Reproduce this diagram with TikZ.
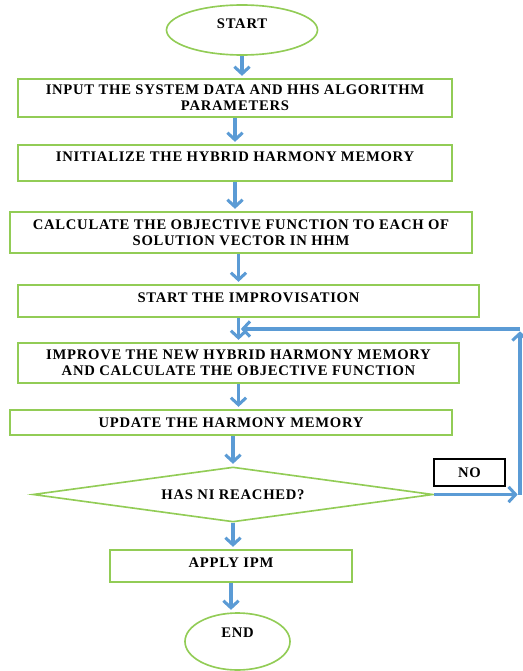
\documentclass[tikz,border=0pt]{standalone}
\usepackage{fontspec}
\setmainfont{Liberation Serif}
\newfontfamily\chartfont[LetterSpace=5]{Liberation Serif}
\usetikzlibrary{shapes.geometric,arrows.meta}
\definecolor{boxgreen}{RGB}{146,204,86}
\definecolor{flowblue}{RGB}{91,155,213}
\begin{document}
\begin{tikzpicture}[x=0.03cm,y=-0.03cm,
    chart/.style={font=\chartfont\bfseries\fontsize{12.5}{13.5}\selectfont,align=center,
      draw=boxgreen,line width=1.4pt,inner sep=1pt},
    procbox/.style={chart,rectangle},
    term/.style={chart,ellipse},
    decide/.style={chart,diamond,inner sep=0pt,aspect=7.27},
    nobox/.style={font=\chartfont\bfseries\fontsize{12.5}{13.5}\selectfont,draw=black,line width=1.6pt,
      rectangle,minimum width=2.13cm,minimum height=0.81cm},
    flow/.style={draw=flowblue,line width=2.6pt,-{Straight Barb[length=6pt,width=13pt]},shorten >=2pt}]

      \useasboundingbox (0,0) rectangle (522,671);

      \begin{scope}[every node/.style={}]
        \node[term,minimum width=4.53cm,minimum height=1.5cm,text depth=0.36cm] (start) at (242,30) {START};
        \node[procbox,minimum width=13.02cm,minimum height=1.14cm] (input) at (235,98)
          {INPUT THE SYSTEM DATA AND HHS ALGORITHM\\PARAMETERS};
        \node[procbox,minimum width=13.02cm,minimum height=1.08cm,text depth=0.36cm] (init) at (235,163)
          {INITIALIZE THE HYBRID HARMONY MEMORY};
        \node[procbox,minimum width=13.86cm,minimum height=1.23cm] (calc) at (241,232.5)
          {CALCULATE THE OBJECTIVE FUNCTION TO EACH OF\\SOLUTION VECTOR IN HHM};
        \node[procbox,minimum width=13.83cm,minimum height=0.96cm,text depth=0.18cm] (improv) at (248.5,301)
          {START THE IMPROVISATION};
        \node[procbox,minimum width=13.23cm,minimum height=1.2cm] (improve) at (238.5,363)
          {IMPROVE THE NEW HYBRID HARMONY MEMORY\\AND CALCULATE THE OBJECTIVE FUNCTION};
        \node[procbox,minimum width=13.26cm,minimum height=0.75cm] (update) at (231,422.5)
          {UPDATE THE HARMONY MEMORY};
        \node[decide,minimum width=12cm,minimum height=1.65cm] (check) at (233,494.5)
          {HAS NI REACHED?};
        \node[nobox] (no) at (469.5,472.5) {NO};
        \node[procbox,minimum width=7.26cm,minimum height=0.96cm,text depth=0.18cm] (ipm) at (231,566)
          {APPLY IPM};
        \node[term,minimum width=3.15cm,minimum height=1.71cm,text depth=0.54cm] (end) at (237.5,641.5) {END};
      \end{scope}

      \coordinate (nocorner) at (520,494.5);
      \coordinate (loopcorner) at (520,329);

      \begin{scope}[every edge/.style={flow}]
        \path (start)   edge (start |- input.north);
        \path (input)   edge (input |- init.north);
        \path (init)    edge (init |- calc.north);
        \path (calc.south -| improve.north) edge (improv.north -| improve.north);
        \path (improv.south -| improve.north) edge (improve.north);
        \path (improve) edge (improve |- update.north);
        \path (update.south -| check.north) edge (check.north);
        \path (check)   edge (check |- ipm.north);
        \path (ipm)     edge (ipm |- end.north);
        \path (check.east) edge (nocorner);
        \path (nocorner)   edge (loopcorner);
        \path (loopcorner) edge (loopcorner -| improve.north);
      \end{scope}

    \end{tikzpicture}
\end{document}
